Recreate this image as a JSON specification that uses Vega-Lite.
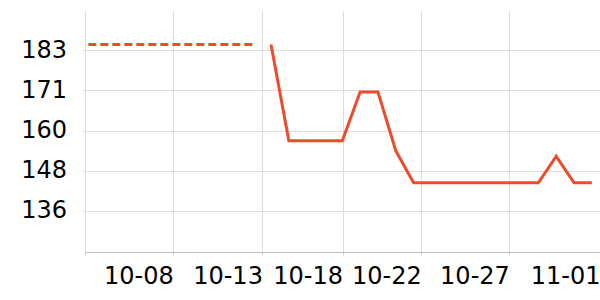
{
  "$schema": "https://vega.github.io/schema/vega-lite/v6.json",
  "width": 515,
  "height": 241,
  "autosize": {"type": "none"},
  "padding": {"left": 85, "top": 11, "right": 0, "bottom": 48},
  "background": "white",
  "config": {
    "view": {"stroke": null},
    "font": "DejaVu Sans"
  },
  "data": {
    "values": [
      {"date": "2023-10-03T18:00:00", "value": 184.6, "series": "before"},
      {"date": "2023-10-13T00:00:00", "value": 184.6, "series": "before"},
      {"date": "2023-10-14T00:00:00", "value": 184.6, "series": "main"},
      {"date": "2023-10-15T00:00:00", "value": 156.6, "series": "main"},
      {"date": "2023-10-16T00:00:00", "value": 156.6, "series": "main"},
      {"date": "2023-10-17T00:00:00", "value": 156.6, "series": "main"},
      {"date": "2023-10-18T00:00:00", "value": 156.6, "series": "main"},
      {"date": "2023-10-19T00:00:00", "value": 170.8, "series": "main"},
      {"date": "2023-10-20T00:00:00", "value": 170.8, "series": "main"},
      {"date": "2023-10-21T00:00:00", "value": 153.7, "series": "main"},
      {"date": "2023-10-22T00:00:00", "value": 144.4, "series": "main"},
      {"date": "2023-10-23T00:00:00", "value": 144.4, "series": "main"},
      {"date": "2023-10-24T00:00:00", "value": 144.4, "series": "main"},
      {"date": "2023-10-25T00:00:00", "value": 144.4, "series": "main"},
      {"date": "2023-10-26T00:00:00", "value": 144.4, "series": "main"},
      {"date": "2023-10-27T00:00:00", "value": 144.4, "series": "main"},
      {"date": "2023-10-28T00:00:00", "value": 144.4, "series": "main"},
      {"date": "2023-10-29T00:00:00", "value": 144.4, "series": "main"},
      {"date": "2023-10-30T00:00:00", "value": 152.1, "series": "main"},
      {"date": "2023-10-31T00:00:00", "value": 144.4, "series": "main"},
      {"date": "2023-11-01T00:00:00", "value": 144.4, "series": "main"}
    ]
  },
  "mark": {"type": "line", "color": "#ee4b2d", "strokeWidth": 3, "clip": true},
  "encoding": {
    "x": {
      "field": "date",
      "type": "temporal",
      "scale": {
        "domain": [
          {"year": 2023, "month": 10, "date": 3, "hours": 13, "minutes": 30},
          {"year": 2023, "month": 11, "date": 1, "hours": 11, "minutes": 0}
        ]
      },
      "axis": {
        "title": null,
        "values": [
          {"year": 2023, "month": 10, "date": 3, "hours": 13, "minutes": 30},
          {"year": 2023, "month": 10, "date": 8, "hours": 12, "minutes": 24},
          {"year": 2023, "month": 10, "date": 13, "hours": 12, "minutes": 24},
          {"year": 2023, "month": 10, "date": 18, "hours": 0, "minutes": 15},
          {"year": 2023, "month": 10, "date": 22, "hours": 10, "minutes": 23},
          {"year": 2023, "month": 10, "date": 27, "hours": 8, "minutes": 56},
          {"year": 2023, "month": 11, "date": 1, "hours": 11, "minutes": 0}
        ],
        "format": "%m-%d",
        "labelExpr": "datum.index == 0 ? '' : datum.label",
        "labelAlign": "right",
        "labelBaseline": "top",
        "labelFlush": false,
        "labelOverlap": false,
        "labelBound": false,
        "labelFontSize": 24,
        "labelColor": "#000000",
        "labelPadding": 9,
        "labelOffset": 0,
        "tickSize": 3,
        "tickColor": "#d0d0d0",
        "gridColor": "#dddddd",
        "domainColor": "#bbbbbb",
        "grid": true
      }
    },
    "y": {
      "field": "value",
      "type": "quantitative",
      "scale": {"domain": [124.28, 194.34], "nice": false, "zero": false},
      "axis": {
        "title": null,
        "values": [136.2, 147.9, 159.6, 171.3, 183.0],
        "format": ".0f",
        "labelFontSize": 24,
        "labelColor": "#000000",
        "labelPadding": 15.5,
        "tickSize": 3,
        "tickColor": "#dddddd",
        "gridColor": "#dddddd",
        "domain": false,
        "grid": true
      }
    },
    "strokeDash": {
      "field": "series",
      "type": "nominal",
      "scale": {"domain": ["before", "main"], "range": [[8, 4], [1, 0]]},
      "legend": null
    }
  }
}
